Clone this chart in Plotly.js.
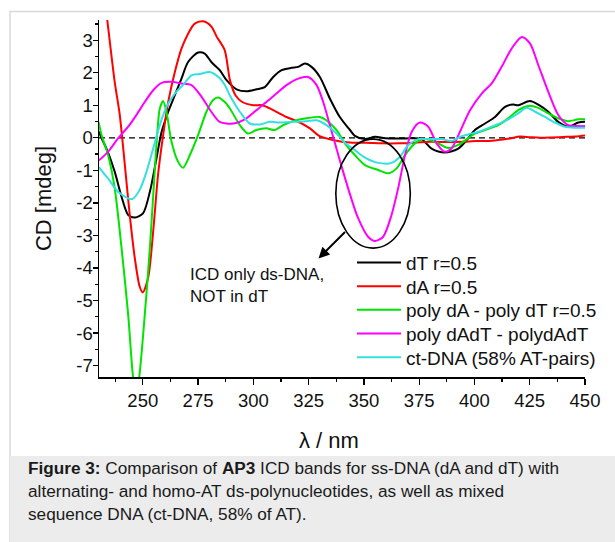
<!DOCTYPE html>
<html>
<head>
<meta charset="utf-8">
<script src="https://cdn.plot.ly/plotly-3.0.1.min.js"></script>
<style>html,body{margin:0;padding:0;background:#fff;}#chart{width:615px;height:542px;}</style>
</head>
<body>
<div id="chart"></div>
<script>
// ---- data (λ in nm, CD in mdeg) ----
const seriesNames = ["dT r=0.5", "dA r=0.5", "poly dA - poly dT r=0.5", "poly dAdT - polydAdT", "ct-DNA (58% AT-pairs)"];
const seriesColors = ["#000000", "#ff0000", "#00e400", "#ff00ff", "#33e0e0"];

const lamDT = [230, 231.3, 234, 237.3, 240.4, 243.4, 246.5, 250.1, 253.2, 256.2, 258.5, 261.5, 264.5, 267.5, 270.5, 275, 278, 281, 284.8, 287.9, 292.4, 296.9, 301.4, 305.2, 309, 312.8, 317.3, 320.3, 323.3, 326.3, 330.1, 334.6, 339.1, 343.7, 345.9, 350.5, 355, 359.6, 368.6, 376, 380.6, 386.6, 392.7, 396.5, 400.2, 404.8, 409.3, 413.8, 417.6, 419.8, 425.1, 428.9, 433.4, 437.9, 442.4, 447, 450];
const cdDT  = [0.2, 0.0, -0.4, -1.04, -1.81, -2.37, -2.45, -2.32, -1.66, -0.63, 0.18, 0.8, 1.31, 1.82, 2.33, 2.62, 2.59, 2.33, 2.08, 1.77, 1.49, 1.43, 1.49, 1.56, 1.87, 2.08, 2.15, 2.18, 2.28, 2.18, 1.87, 1.21, 0.64, 0.24, 0.06, -0.04, 0.03, -0.01, -0.02, -0.04, -0.33, -0.45, -0.33, -0.07, 0.24, 0.44, 0.64, 0.95, 1.02, 1.0, 1.13, 1.02, 0.8, 0.49, 0.34, 0.47, 0.49];

const lamDA = [230, 233.8, 237.3, 239.6, 241.9, 244.1, 246.4, 248.6, 250, 252.4, 254.7, 256.9, 259.2, 261.5, 264.5, 267.5, 270.5, 273.5, 277.3, 281, 283.5, 287, 289.5, 292, 295, 300, 304, 309, 315, 321, 325.6, 330, 335, 340, 345, 351, 358, 366, 373, 380, 389, 395, 401, 406, 411.5, 416, 420.6, 425, 429.6, 435, 441.7, 446, 450];
const cdDA  = [5.8, 3.7, 1.72, 0.7, -0.84, -2.37, -3.7, -4.57, -4.75, -4.31, -2.88, -1.14, 0.08, 1.1, 2.02, 2.74, 3.2, 3.51, 3.58, 3.42, 3.1, 2.7, 1.75, 1.3, 1.1, 1.0, 1.0, 0.85, 0.64, 0.47, 0.29, 0.05, -0.05, -0.12, -0.15, -0.15, -0.17, -0.17, -0.15, -0.12, -0.13, -0.12, -0.1, -0.1, -0.06, -0.02, 0.04, 0.02, 0.0, 0.01, 0.03, 0.04, 0.07];

const lamPolyAT = [230, 231.5, 234.3, 237.3, 240.4, 243.4, 245.6, 247, 248.4, 250.9, 253.2, 255.1, 256.6, 257.7, 259.2, 260.7, 263, 266, 268.2, 271.3, 275, 278.8, 281.8, 284, 287.1, 289.4, 293.9, 297.6, 301.4, 305.9, 309.7, 313.5, 318, 324, 330, 333, 337.6, 341.4, 345.9, 350.5, 356.5, 361, 364.8, 368.6, 373.1, 377.6, 383.6, 388, 392.7, 398, 400.2, 404.8, 410.8, 415.3, 419.8, 424.3, 428.9, 433.4, 437.9, 442.4, 447, 450];
const cdPolyAT  = [0.49, 0.05, -0.53, -1.55, -3.39, -5.44, -7.35, -7.9, -7.35, -5.44, -3.39, -1.35, 0.18, 0.9, 1.13, 0.8, -0.12, -0.74, -0.92, -0.53, 0.08, 0.8, 1.16, 1.24, 1.1, 0.9, 0.39, 0.13, 0.24, 0.29, 0.24, 0.39, 0.51, 0.6, 0.64, 0.54, 0.24, -0.17, -0.53, -0.84, -0.99, -1.09, -0.94, -0.53, -0.17, -0.04, -0.17, -0.31, -0.22, 0.03, 0.13, 0.24, 0.39, 0.6, 0.85, 0.98, 0.92, 0.75, 0.6, 0.51, 0.57, 0.57];

const lamPolyAlt = [230, 234.3, 238.8, 243.4, 247.1, 250.9, 254.7, 258.5, 263, 267.5, 272, 276.6, 281, 284.8, 290.9, 296.9, 301.4, 305.9, 310.4, 315, 320.3, 324.8, 328.6, 331.6, 334.6, 337.6, 340.6, 344, 347.4, 351.9, 355, 358.7, 362.5, 365.5, 368.6, 371.6, 375.3, 379.1, 382.9, 386.6, 389.6, 393.4, 398, 403.3, 407.8, 412.3, 416.8, 421.4, 425.1, 428.9, 433.4, 437.9, 442.4, 447, 450];
const cdPolyAlt  = [-0.7, -0.43, -0.02, 0.34, 0.7, 1.1, 1.46, 1.69, 1.72, 1.67, 1.62, 1.26, 0.8, 0.49, 0.44, 0.6, 0.85, 1.1, 1.36, 1.62, 1.82, 1.87, 1.62, 1.1, 0.39, -0.33, -1.04, -1.8, -2.47, -3.04, -3.17, -3.04, -2.37, -1.55, -0.53, 0.18, 0.47, 0.34, -0.17, -0.43, -0.33, 0.18, 0.85, 1.36, 1.67, 2.18, 2.74, 3.1, 2.9, 2.23, 1.41, 0.7, 0.39, 0.36, 0.36];

const lamCT = [230, 234.3, 238.8, 243.4, 245.3, 248.6, 251.7, 254.7, 257.7, 260.7, 264.5, 268.2, 272, 275.8, 280.3, 284.5, 287.1, 289.4, 293.9, 298.4, 302.9, 307.5, 312, 318, 324, 328.6, 333.1, 337.6, 341.4, 345.9, 350.5, 356.5, 362.5, 366.3, 370.1, 374.6, 379, 385, 389.6, 393.5, 398, 401.7, 407.8, 413.8, 419.8, 423.6, 427.4, 431.9, 436.4, 441, 445.5, 450];
const cdCT  = [-0.89, -1.25, -1.66, -1.86, -1.88, -1.6, -1.04, -0.33, 0.39, 0.95, 1.36, 1.62, 1.92, 1.96, 2.02, 1.85, 1.62, 1.3, 0.8, 0.44, 0.41, 0.49, 0.47, 0.49, 0.51, 0.54, 0.39, 0.13, -0.15, -0.38, -0.61, -0.77, -0.77, -0.58, -0.22, -0.04, -0.04, -0.04, -0.1, 0.03, 0.12, 0.18, 0.34, 0.51, 0.75, 0.92, 0.8, 0.64, 0.47, 0.34, 0.31, 0.31];

const xTickVals = [250, 275, 300, 325, 350, 375, 400, 425, 450];
const yTickVals = [-7, -6, -5, -4, -3, -2, -1, 0, 1, 2, 3];
const yTickText = ["-7", "-6", "-5", "-4", "-3", "-2", "-1", "0", "1", "2", "3"];

// ---- geometry helpers (pixel -> paper) ----
const W = 615, H = 542, ML = 99, MR = 30, MT = 20, MB = 165;
const PW = W - ML - MR, PH = H - MT - MB;
const px = v => (v - ML) / PW;
const py = v => (H - MB - v) / PH;

const font = "Arial, 'Liberation Sans', sans-serif";
const legendRowsPx = [262.7, 286.3, 310, 333.7, 357.3];
const legendIds = seriesNames.map((n, i) => i === 0 ? 'legend' : 'legend' + (i + 1));

const xs = [lamDT, lamDA, lamPolyAT, lamPolyAlt, lamCT];
const ys = [cdDT, cdDA, cdPolyAT, cdPolyAlt, cdCT];
const traces = seriesNames.map((n, i) => ({
  type: 'scatter', mode: 'lines', name: n, legend: legendIds[i],
  x: xs[i], y: ys[i],
  line: {color: seriesColors[i], width: 2, shape: 'spline', smoothing: 0.8}
}));

const axisCommon = {
  showgrid: false, zeroline: false, showline: true, linecolor: '#000', linewidth: 1.5,
  ticks: 'outside', ticklen: 6, tickwidth: 1.3, tickcolor: '#000',
  tickfont: {family: font, size: 18.5, color: '#111'}
};

const layout = {
  width: W, height: H,
  margin: {l: ML, r: MR, t: MT, b: MB, pad: 0},
  paper_bgcolor: '#ffffff', plot_bgcolor: 'rgba(0,0,0,0)',
  showlegend: true,
  xaxis: Object.assign({}, axisCommon, {
    range: [230.2, 450], tickmode: 'array', tickvals: xTickVals,
    minor: {dtick: 12.5, tick0: 237.5, ticks: 'outside', ticklen: 3, tickwidth: 1.2, tickcolor: '#000'}
  }),
  yaxis: Object.assign({}, axisCommon, {
    range: [-7.35, 3.62], tickmode: 'array', tickvals: yTickVals, ticktext: yTickText, ticklen: 5,
    ticklabelstandoff: -4,
    minor: {dtick: 0.5, tick0: 0, ticks: 'outside', ticklen: 3, tickwidth: 1.2, tickcolor: '#000'},
    title: {text: 'CD [mdeg]', font: {family: font, size: 22, color: '#111'}, standoff: 18}
  }),
  shapes: [
    {type: 'rect', xref: 'paper', yref: 'paper', x0: px(10), x1: px(640), y0: py(600), y1: py(11.5),
     line: {color: '#d9d9d9', width: 1.5}, fillcolor: '#ffffff', layer: 'below'},
    {type: 'rect', xref: 'paper', yref: 'paper', x0: px(10), x1: px(640), y0: py(600), y1: py(456),
     line: {width: 0}, fillcolor: '#ececec', layer: 'below'},
    {type: 'line', xref: 'paper', yref: 'y', x0: 0, x1: 1, y0: 0, y1: 0,
     line: {color: '#000', width: 1.2, dash: '6px,4px'}, layer: 'below'},
    {type: 'circle', xref: 'x', yref: 'y', x0: 337.3, x1: 371.0, y0: -3.39, y1: -0.04,
     line: {color: '#000', width: 1.6}}
  ],
  annotations: [
    {xref: 'paper', yref: 'paper', x: px(188), y: py(285.5), xanchor: 'left', yanchor: 'middle', align: 'left',
     text: 'ICD only ds-DNA,<br>NOT in dT', showarrow: false, font: {family: font, size: 17, color: '#111'}},
    {xref: 'paper', yref: 'paper', x: px(318.5), y: py(258.5), text: '', showarrow: true,
     ax: 28, ay: -28, arrowhead: 2, arrowsize: 1.1, arrowwidth: 2, arrowcolor: '#000'},
    {xref: 'paper', yref: 'paper', x: px(329), y: py(440), xanchor: 'center', yanchor: 'middle',
     text: 'λ / nm', showarrow: false, font: {family: font, size: 22, color: '#111'}},
    {xref: 'paper', yref: 'paper', x: px(26), y: py(468), xanchor: 'left', yanchor: 'middle', align: 'left',
     text: '<b>Figure 3:</b> Comparison of <b>AP3</b> ICD bands for ss-DNA (dA and dT) with', showarrow: false,
     font: {family: font, size: 17.2, color: '#1a1a1a'}},
    {xref: 'paper', yref: 'paper', x: px(26), y: py(491), xanchor: 'left', yanchor: 'middle', align: 'left',
     text: 'alternating- and homo-AT ds-polynucleotides, as well as mixed', showarrow: false,
     font: {family: font, size: 17.2, color: '#1a1a1a'}},
    {xref: 'paper', yref: 'paper', x: px(26), y: py(514), xanchor: 'left', yanchor: 'middle', align: 'left',
     text: 'sequence DNA (ct-DNA, 58% of AT).', showarrow: false,
     font: {family: font, size: 17.2, color: '#1a1a1a'}}
  ]
};

legendIds.forEach((id, i) => {
  layout[id] = {x: px(352), y: py(legendRowsPx[i]), xanchor: 'left', yanchor: 'middle',
                bgcolor: 'rgba(0,0,0,0)', borderwidth: 0,
                font: {family: font, size: 19, color: '#111'}, itemwidth: 44};
});

Plotly.newPlot('chart', traces, layout, {displayModeBar: false, staticPlot: true});
</script>
</body>
</html>
